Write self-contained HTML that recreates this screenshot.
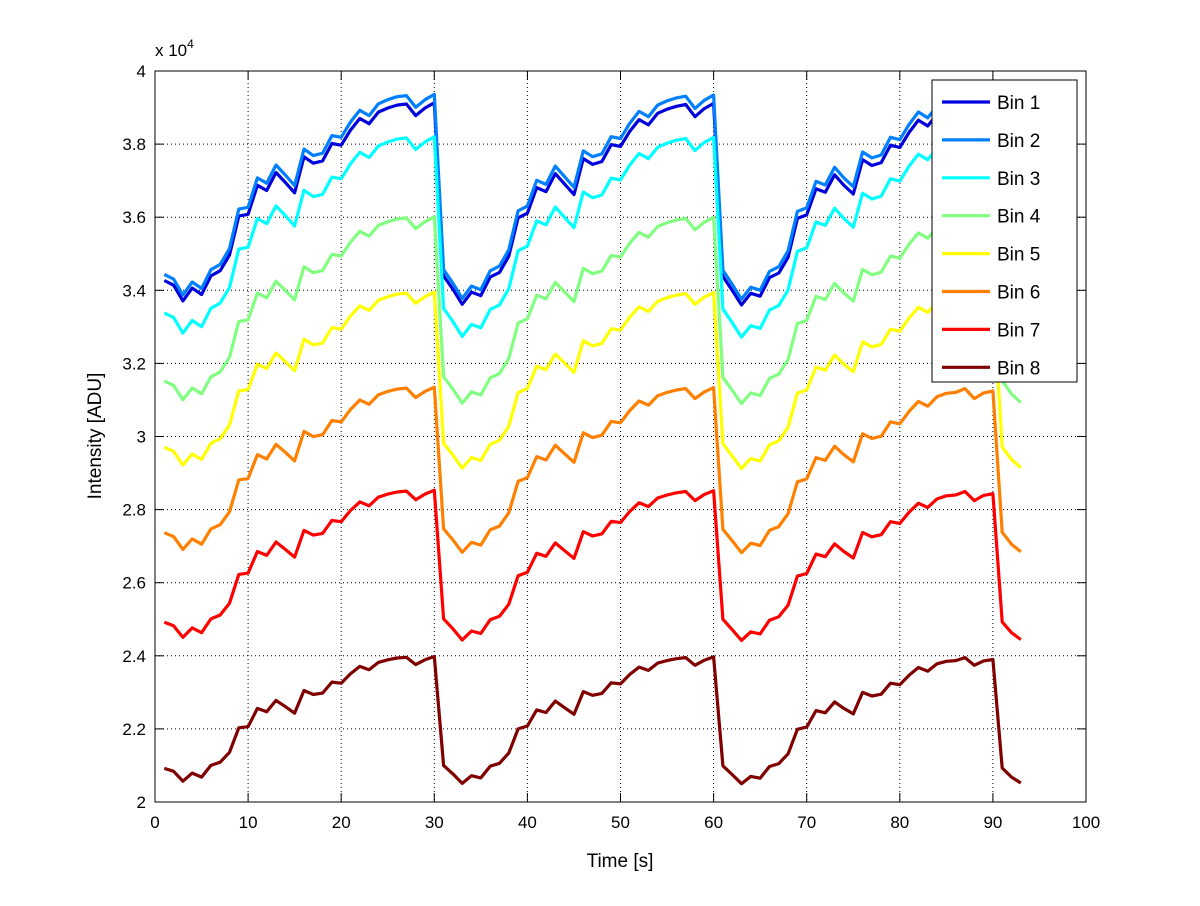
<!DOCTYPE html>
<html><head><meta charset="utf-8"><style>
body{margin:0;background:#fff;}
svg text{font-family:"Liberation Sans",sans-serif;}
</style></head><body>
<svg id="chart" width="1200" height="901" viewBox="0 0 1200 901">
<rect width="1200" height="901" fill="#fff"/>
<g id="grid"></g>
<g id="series"></g>
<rect x="155" y="71" width="931" height="731" fill="none" stroke="#000" stroke-width="1"/>
<g id="ticks"></g>
<text x="155" y="56" font-size="17">x 10<tspan dy="-8" font-size="12">4</tspan></text>
<text x="620" y="867" font-size="19" text-anchor="middle">Time [s]</text>
<text transform="translate(101,436) rotate(-90)" font-size="19" text-anchor="middle">Intensity [ADU]</text>
<g id="legend"></g>
</svg>
<script>
const binNames = ["Bin 1","Bin 2","Bin 3","Bin 4","Bin 5","Bin 6","Bin 7","Bin 8"];
const binColors = ["#0000dc","#0080ff","#00ffff","#80ff80","#ffff00","#ff8000","#ff0000","#800000"];
// value at cycle minimum and at cycle maximum for each bin (x1e4)
const binLow = [3.360,3.376,3.272,3.090,2.912,2.682,2.442,2.050];
const binHigh = [3.913,3.936,3.820,3.601,3.395,3.135,2.853,2.398];
// Bin 8 measured profile, t = 1..93 (x1e4)
const profile = [2.092,2.084,2.057,2.079,2.068,2.100,2.109,2.136,2.203,2.206,2.256,2.247,2.278,2.261,2.243,2.305,2.294,2.298,2.328,2.325,2.351,2.371,2.362,2.382,2.389,2.394,2.396,2.376,2.389,2.398,
2.100,2.077,2.051,
2.072,2.066,2.098,2.106,2.134,2.200,2.208,2.252,2.245,2.276,2.258,2.240,2.302,2.292,2.297,2.326,2.323,2.349,2.369,2.360,2.380,2.387,2.392,2.395,2.374,2.388,2.397,
2.099,2.075,2.050,
2.070,2.065,2.097,2.105,2.132,2.199,2.205,2.250,2.244,2.274,2.256,2.241,2.300,2.290,2.295,2.325,2.321,2.347,2.368,2.358,2.378,2.385,2.387,2.395,2.374,2.386,2.390,
2.093,2.068,2.052];
const xTicks = [0,10,20,30,40,50,60,70,80,90,100];
const yTicks = [2,2.2,2.4,2.6,2.8,3,3.2,3.4,3.6,3.8,4];
const yTickLabels = ["2","2.2","2.4","2.6","2.8","3","3.2","3.4","3.6","3.8","4"];

const NS="http://www.w3.org/2000/svg";
const X0=155,X1=1086,Y0=802,Y1=71;
const xs=v=>X0+(v-0)/(100-0)*(X1-X0);
const ys=v=>Y0-(v-2)/(4-2)*(Y0-Y1);
function mk(tag,attrs,parent){const e=document.createElementNS(NS,tag);for(const k in attrs)e.setAttribute(k,attrs[k]);parent.appendChild(e);return e;}
const grid=document.getElementById('grid'),ticks=document.getElementById('ticks'),series=document.getElementById('series'),legend=document.getElementById('legend');
xTicks.forEach((t,i)=>{
  const x=xs(t);
  if(i>0&&i<xTicks.length-1){const g=mk('line',{x1:x,x2:x,y1:Y1,y2:Y0,stroke:'#000','stroke-width':1,'stroke-dasharray':'1,3'},grid);
  
  }
  const a=mk('line',{x1:x,x2:x,y1:Y0,y2:Y0-9,stroke:'#000'},ticks);
  
  
  mk('line',{x1:x,x2:x,y1:Y1,y2:Y1+9,stroke:'#000'},ticks);
  const tx=mk('text',{x:x,y:Y0+26,'font-size':17,'text-anchor':'middle'},ticks);
  tx.textContent=t;
  
  
});
yTicks.forEach((t,i)=>{
  const y=ys(t);
  if(i>0&&i<yTicks.length-1){const g=mk('line',{x1:X0,x2:X1,y1:y,y2:y,stroke:'#000','stroke-width':1,'stroke-dasharray':'1,3'},grid);
  
  }
  const a=mk('line',{x1:X0,x2:X0+9,y1:y,y2:y,stroke:'#000'},ticks);
  
  
  mk('line',{x1:X1,x2:X1-9,y1:y,y2:y,stroke:'#000'},ticks);
  const tx=mk('text',{x:X0-9,y:y+6,'font-size':17,'text-anchor':'end'},ticks);
  tx.textContent=yTickLabels[i];
  
  
});
const pMin=Math.min(...profile),pMax=Math.max(...profile);
binNames.forEach((n,b)=>{
  const pts=profile.map((p,i)=>{const v=binLow[b]+(p-pMin)/(pMax-pMin)*(binHigh[b]-binLow[b]);return xs(i+1).toFixed(1)+','+ys(v).toFixed(1);}).join(' ');
  const pl=mk('polyline',{points:pts,fill:'none',stroke:binColors[b],'stroke-width':3.2,'stroke-linejoin':'round'},series);
  
  
});
const lb=mk('rect',{x:932,y:80,width:145,height:302,fill:'#fff',stroke:'#000','stroke-width':1},legend);


binNames.forEach((n,b)=>{
  const y=102+b*37.9;
  const g=mk('g',{},legend);
  
  
  mk('line',{x1:942,x2:990,y1:y,y2:y,stroke:binColors[b],'stroke-width':3.2},g);
  const t=mk('text',{x:997,y:y+7,'font-size':19},g);
  t.textContent=n;
});
</script>
</body></html>
